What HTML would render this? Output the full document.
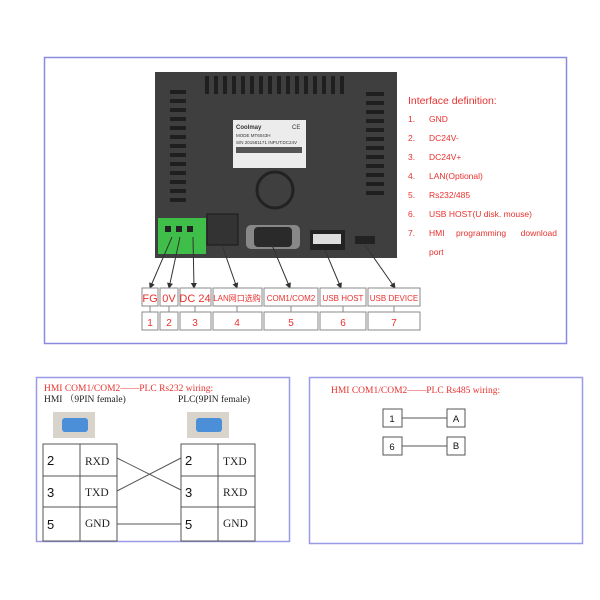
<!DOCTYPE html>
<html><head><meta charset="utf-8"><style>
html,body{margin:0;padding:0;background:#fff;width:600px;height:600px;overflow:hidden}
svg{display:block}
text{font-family:"Liberation Sans","Noto Sans CJK SC",sans-serif}
.r{fill:#e8312f}
text.s,.s text{font-family:"Liberation Serif","Noto Serif CJK SC",serif}
</style></head><body>
<svg width="600" height="600" viewBox="0 0 600 600" xmlns="http://www.w3.org/2000/svg">
<defs><marker id="ah" markerWidth="6" markerHeight="6" refX="5" refY="3" orient="auto"><path d="M0,0 L6,3 L0,6z" fill="#333"/></marker></defs>
<rect x="44.5" y="57.5" width="522" height="286" fill="#fff" stroke="#8a8ae0" stroke-width="1.5"/>
<rect x="155" y="72" width="242" height="186" fill="#3f3f3f"/>
<g fill="#1f1f1f">
<rect x="170" y="90" width="16" height="4"/><rect x="170" y="99" width="16" height="4"/><rect x="170" y="108" width="16" height="4"/><rect x="170" y="117" width="16" height="4"/><rect x="170" y="126" width="16" height="4"/><rect x="170" y="135" width="16" height="4"/><rect x="170" y="144" width="16" height="4"/><rect x="170" y="153" width="16" height="4"/><rect x="170" y="162" width="16" height="4"/><rect x="170" y="171" width="16" height="4"/><rect x="170" y="180" width="16" height="4"/><rect x="170" y="189" width="16" height="4"/><rect x="170" y="198" width="16" height="4"/>
<rect x="366" y="92" width="18" height="4"/><rect x="366" y="101" width="18" height="4"/><rect x="366" y="110" width="18" height="4"/><rect x="366" y="119" width="18" height="4"/><rect x="366" y="128" width="18" height="4"/><rect x="366" y="137" width="18" height="4"/><rect x="366" y="146" width="18" height="4"/><rect x="366" y="155" width="18" height="4"/><rect x="366" y="164" width="18" height="4"/><rect x="366" y="173" width="18" height="4"/><rect x="366" y="182" width="18" height="4"/><rect x="366" y="191" width="18" height="4"/>
<rect x="205" y="76" width="4" height="18"/><rect x="214" y="76" width="4" height="18"/><rect x="223" y="76" width="4" height="18"/><rect x="232" y="76" width="4" height="18"/><rect x="241" y="76" width="4" height="18"/><rect x="250" y="76" width="4" height="18"/><rect x="259" y="76" width="4" height="18"/><rect x="268" y="76" width="4" height="18"/><rect x="277" y="76" width="4" height="18"/><rect x="286" y="76" width="4" height="18"/><rect x="295" y="76" width="4" height="18"/><rect x="304" y="76" width="4" height="18"/><rect x="313" y="76" width="4" height="18"/><rect x="322" y="76" width="4" height="18"/><rect x="331" y="76" width="4" height="18"/><rect x="340" y="76" width="4" height="18"/>
</g>
<rect x="233" y="120" width="73" height="48" fill="#ececec"/>
<text x="236" y="129" font-size="6" font-weight="bold" fill="#333">Coolmay</text>
<text x="292" y="129" font-size="6" fill="#333">CE</text>
<text x="236" y="137" font-size="4.5" fill="#333">MODE MT6043H</text>
<text x="236" y="144" font-size="4.5" fill="#333">S/N 201581171  INPUT:DC24V</text>
<rect x="236" y="147" width="66" height="6" fill="#555"/>
<circle cx="275" cy="190" r="18" fill="none" stroke="#222" stroke-width="3"/>
<rect x="158" y="218" width="48" height="36" fill="#3fbf4a"/>
<rect x="165" y="226" width="6" height="6" fill="#222"/><rect x="176" y="226" width="6" height="6" fill="#222"/><rect x="187" y="226" width="6" height="6" fill="#222"/>
<rect x="207" y="214" width="31" height="31" fill="#333" stroke="#1a1a1a"/>
<rect x="246" y="225" width="54" height="24" rx="5" fill="#888"/><rect x="254" y="227" width="38" height="20" rx="4" fill="#2a2a2a"/>
<rect x="310" y="230" width="35" height="20" fill="#222"/><rect x="313" y="234" width="28" height="10" fill="#ddd"/>
<rect x="355" y="236" width="20" height="8" fill="#222"/>
<g stroke="#333" stroke-width="1" marker-end="url(#ah)">
<line x1="172" y1="237" x2="150" y2="288"/><line x1="180" y1="237" x2="169" y2="288"/><line x1="193" y1="237" x2="194" y2="288"/>
<line x1="222" y1="245" x2="237" y2="288"/><line x1="272" y1="245" x2="290" y2="288"/><line x1="325" y1="250" x2="341" y2="288"/><line x1="365" y1="245" x2="395" y2="288"/>
</g>
<g fill="#fff" stroke="#888" stroke-width="1">
<rect x="142" y="288" width="16" height="18"/><rect x="160" y="288" width="18" height="18"/><rect x="180" y="288" width="31" height="18"/><rect x="213" y="288" width="49" height="18"/><rect x="264" y="288" width="54" height="18"/><rect x="320" y="288" width="46" height="18"/><rect x="368" y="288" width="52" height="18"/>
<rect x="142" y="312" width="16" height="18"/><rect x="160" y="312" width="18" height="18"/><rect x="180" y="312" width="31" height="18"/><rect x="213" y="312" width="49" height="18"/><rect x="264" y="312" width="54" height="18"/><rect x="320" y="312" width="46" height="18"/><rect x="368" y="312" width="52" height="18"/>
</g>
<g stroke="#888"><line x1="150" y1="306" x2="150" y2="312"/><line x1="169" y1="306" x2="169" y2="312"/><line x1="195" y1="306" x2="195" y2="312"/><line x1="237" y1="306" x2="237" y2="312"/><line x1="291" y1="306" x2="291" y2="312"/><line x1="343" y1="306" x2="343" y2="312"/><line x1="394" y1="306" x2="394" y2="312"/></g>
<g class="r" font-size="11" text-anchor="middle">
<text x="150" y="302">FG</text><text x="169" y="302">0V</text><text x="195" y="302">DC 24</text>
<text x="237" y="301" font-size="8">LAN网口选购</text><text x="291" y="301" font-size="8">COM1/COM2</text><text x="343" y="301" font-size="8">USB HOST</text><text x="394" y="301" font-size="8">USB DEVICE</text>
<text x="150" y="326" font-size="10">1</text><text x="169" y="326" font-size="10">2</text><text x="195" y="326" font-size="10">3</text><text x="237" y="326" font-size="10">4</text><text x="291" y="326" font-size="10">5</text><text x="343" y="326" font-size="10">6</text><text x="394" y="326" font-size="10">7</text>
</g>
<g class="r" font-size="8.5">
<text x="408" y="104" font-size="10.5">Interface definition:</text>
<text x="408" y="122">1.</text><text x="429" y="122">GND</text>
<text x="408" y="141">2.</text><text x="429" y="141">DC24V-</text>
<text x="408" y="160">3.</text><text x="429" y="160">DC24V+</text>
<text x="408" y="179">4.</text><text x="429" y="179">LAN(Optional)</text>
<text x="408" y="198">5.</text><text x="429" y="198">Rs232/485</text>
<text x="408" y="217">6.</text><text x="429" y="217">USB HOST(U disk.    mouse)</text>
<text x="408" y="236">7.</text><text x="429" y="236">HMI</text><text x="456" y="236">programming</text><text x="557" y="236" text-anchor="end">download</text>
<text x="429" y="255">port</text>
</g>
<rect x="36.5" y="377.5" width="253" height="164" fill="#fff" stroke="#9a9ae8" stroke-width="1.5"/>
<text x="44" y="391" font-size="9.5" class="r s">HMI COM1/COM2——PLC Rs232 wiring:</text>
<text x="44" y="402" font-size="9.5" fill="#222" class="s">HMI （9PIN female)</text>
<text x="178" y="402" font-size="9.5" fill="#222" class="s">PLC(9PIN female)</text>
<rect x="53" y="412" width="42" height="26" fill="#d8d4cc"/><rect x="62" y="418" width="26" height="14" rx="3" fill="#4a8fd8"/>
<rect x="187" y="412" width="42" height="26" fill="#d8d4cc"/><rect x="196" y="418" width="26" height="14" rx="3" fill="#4a8fd8"/>
<g fill="none" stroke="#555">
<rect x="43" y="444" width="74" height="97"/><line x1="80" y1="444" x2="80" y2="541"/><line x1="43" y1="476" x2="117" y2="476"/><line x1="43" y1="507" x2="117" y2="507"/>
<rect x="181" y="444" width="74" height="97"/><line x1="218" y1="444" x2="218" y2="541"/><line x1="181" y1="476" x2="255" y2="476"/><line x1="181" y1="507" x2="255" y2="507"/>
<line x1="117" y1="458" x2="181" y2="490"/><line x1="117" y1="491" x2="181" y2="458"/><line x1="117" y1="524" x2="181" y2="524"/>
</g>
<g font-size="13" fill="#111"><text x="47" y="465">2</text><text x="47" y="497">3</text><text x="47" y="529">5</text><text x="185" y="465">2</text><text x="185" y="497">3</text><text x="185" y="529">5</text></g>
<g font-size="11.5" fill="#222" class="s"><text x="85" y="465">RXD</text><text x="85" y="496">TXD</text><text x="85" y="527">GND</text><text x="223" y="465">TXD</text><text x="223" y="496">RXD</text><text x="223" y="527">GND</text></g>
<rect x="309.5" y="377.5" width="273" height="166" fill="#fff" stroke="#9a9ae8" stroke-width="1.5"/>
<text x="331" y="393" font-size="9.5" class="r s">HMI COM1/COM2——PLC Rs485 wiring:</text>
<g fill="#fff" stroke="#555"><rect x="383" y="409" width="19" height="18"/><rect x="447" y="409" width="18" height="18"/><rect x="383" y="437" width="19" height="18"/><rect x="447" y="437" width="18" height="18"/></g>
<g stroke="#555"><line x1="402" y1="418" x2="447" y2="418"/><line x1="402" y1="446" x2="447" y2="446"/></g>
<g font-size="9.5" fill="#111" text-anchor="middle"><text x="392" y="422">1</text><text x="456" y="422">A</text><text x="392" y="450">6</text><text x="456" y="449">B</text></g>
</svg>
</body></html>
